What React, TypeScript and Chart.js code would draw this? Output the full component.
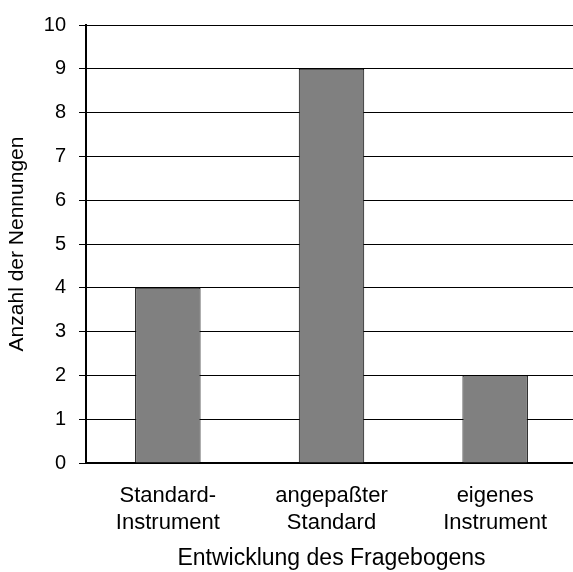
import React, { useEffect, useRef } from "react";
import { Chart, registerables } from "chart.js";

Chart.register(...registerables);

const categories: string[][] = [
  ["Standard-", "Instrument"],
  ["angepaßter", "Standard"],
  ["eigenes", "Instrument"],
];
const counts: number[] = [4, 9, 2];
const yTicks: number[] = [0, 1, 2, 3, 4, 5, 6, 7, 8, 9, 10];
const xTitle = "Entwicklung des Fragebogens";
const yTitle = "Anzahl der Nennungen";

const FONT = "'Liberation Sans', Arial, sans-serif";

export default function App() {
  const ref = useRef<HTMLCanvasElement | null>(null);

  useEffect(() => {
    const canvas = ref.current;
    if (!canvas) return;
    const chart = new Chart(canvas, {
      type: "bar",
      data: {
        labels: categories,
        datasets: [
          {
            data: counts,
            backgroundColor: "#808080",
            borderColor: "#000000",
            borderWidth: 1,
            categoryPercentage: 1,
            barPercentage: 0.4,
          },
        ],
      },
      options: {
        responsive: false,
        animation: false,
        devicePixelRatio: 1,
        layout: { padding: { top: 25, right: 3, left: 0, bottom: 0 } },
        plugins: {
          legend: { display: false },
          tooltip: { enabled: false },
        },
        scales: {
          x: {
            grid: { display: false, drawTicks: false },
            border: { display: true, color: "#000000", width: 2 },
            ticks: {
              color: "#000000",
              font: { family: FONT, size: 22, lineHeight: 1.22 },
              padding: 20,
              maxRotation: 0,
              autoSkip: false,
            },
            title: {
              display: true,
              text: xTitle,
              color: "#000000",
              font: { family: FONT, size: 23 },
              padding: { top: 0, bottom: 0 },
            },
            afterFit: (s: any) => {
              s.height = 109;
            },
          },
          y: {
            min: 0,
            max: 10,
            afterBuildTicks: (s: any) => {
              s.ticks = yTicks.map((v) => ({ value: v }));
            },
            grid: {
              color: "#000000",
              lineWidth: 1,
              drawTicks: true,
              tickLength: 7,
            },
            border: { display: true, color: "#000000", width: 2 },
            ticks: {
              color: "#000000",
              font: { family: FONT, size: 20 },
              padding: 13,
            },
            title: {
              display: true,
              text: yTitle,
              color: "#000000",
              font: { family: FONT, size: 21 },
              padding: { top: 5, bottom: 0 },
            },
            afterFit: (s: any) => {
              s.width = 86;
            },
          },
        },
      },
    });
    return () => chart.destroy();
  }, []);

  return (
    <div
      style={{
        position: "fixed",
        left: 0,
        top: 0,
        width: 573,
        height: 572,
        overflow: "hidden",
        background: "#ffffff",
      }}
    >
      <canvas ref={ref} width={580} height={572} style={{ display: "block" }} />
    </div>
  );
}
